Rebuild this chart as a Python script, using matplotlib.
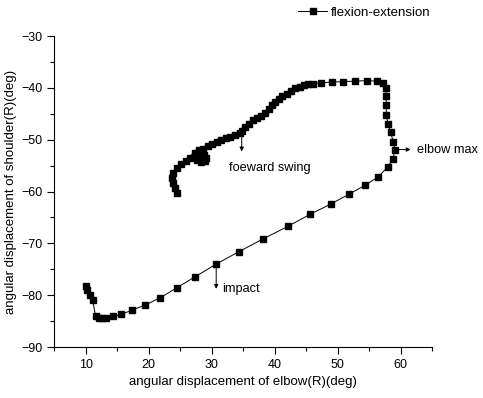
import matplotlib
matplotlib.use("Agg")
import matplotlib.pyplot as plt

plt.rcParams['font.family'] = ['Liberation Sans', 'DejaVu Sans']

# elbow (x) vs shoulder (y) angles, degrees, in time order
elbow = [24.5, 24.1, 23.8, 23.7, 23.9, 24.4, 25.1, 25.9, 26.6,
         27.3, 27.2, 27.6, 28.3, 28.9, 29.1, 28.7, 28.1, 27.6, 27.9, 28.6,
         29.4, 30.1, 30.8, 31.5, 32.2, 32.9, 33.75, 34.4, 34.8, 35.3, 35.9,
         36.5, 37.1, 37.8, 38.5, 39.1, 39.6, 40.1, 40.6, 41.2, 41.9, 42.6,
         43.2, 44.0, 44.7, 45.3, 46.0, 47.3, 49.05, 50.9, 52.8, 54.7, 56.2,
         57.1, 57.6, 57.7, 57.7, 57.7, 58.0, 58.4, 58.8, 59.1, 58.75, 57.9,
         56.4, 54.3, 51.8, 48.9, 45.6, 42.1, 38.2, 34.3, 30.7, 27.4, 24.4,
         21.8, 19.4, 17.3, 15.6, 14.3, 13.2, 12.6, 12.1, 11.55, 11.1, 10.6,
         10.2, 10.0]
shoulder = [-60.2, -59.4, -58.4, -57.3, -56.4, -55.5, -54.7, -54.1, -53.6,
            -52.6, -53.3, -53.9, -54.3, -54.1, -53.5, -53.0, -52.8, -52.6,
            -52.0, -51.7, -51.2, -50.8, -50.5, -50.1, -49.75, -49.4, -49.1,
            -48.8, -48.3, -47.5, -46.9, -46.2, -45.9, -45.4, -44.8, -44.0,
            -43.4, -42.8, -42.2, -41.6, -41.1, -40.6, -40.1, -39.8, -39.5,
            -39.3, -39.2, -39.0, -38.9, -38.8, -38.7, -38.6, -38.7, -39.1,
            -40.1, -41.6, -43.3, -45.25, -47.0, -48.6, -50.4, -51.9, -53.7,
            -55.3, -57.2, -58.8, -60.5, -62.4, -64.4, -66.7, -69.1, -71.6,
            -74.0, -76.4, -78.6, -80.5, -81.9, -82.9, -83.7, -84.1, -84.3,
            -84.4, -84.3, -84.05, -81.0, -80.0, -78.9, -78.3]

fig = plt.figure(figsize=(4.83, 3.98), dpi=100)
ax = fig.add_axes([0.1124, 0.128, 0.7826, 0.7815])

line, = ax.plot(elbow, shoulder, color='black', linewidth=0.7, marker='s',
                markersize=5, markerfacecolor='black', markeredgecolor='black',
                label='flexion-extension')

ax.set_xlim(5, 65)
ax.set_ylim(-90, -30)
ax.set_xticks([10, 20, 30, 40, 50, 60])
ax.set_xticks([5, 15, 25, 35, 45, 55, 65], minor=True)
ax.set_yticks([-90, -80, -70, -60, -50, -40, -30])
ax.set_yticks([-85, -75, -65, -55, -45, -35], minor=True)
ax.tick_params(which='major', direction='out', length=5, width=0.8, labelsize=9)
ax.tick_params(which='minor', direction='out', length=3, width=0.8)
ax.spines['top'].set_visible(False)
ax.spines['right'].set_visible(False)

ax.set_xlabel('angular displacement of elbow(R)(deg)', fontsize=9.5)
ax.set_ylabel('angular displacement of shoulder(R)(deg)', fontsize=9.5, labelpad=3)

arrow = dict(arrowstyle='-|>', color='black', lw=0.7, mutation_scale=6)
ax.annotate('', xy=(34.75, -52.8), xytext=(34.75, -49.0), arrowprops=arrow)
ax.text(32.7, -55.5, 'foeward swing', fontsize=9.2, va='center')
ax.annotate('', xy=(62.0, -51.9), xytext=(59.3, -51.9), arrowprops=arrow,
            annotation_clip=False)
ax.text(62.6, -51.9, 'elbow max', fontsize=9.2, va='center', clip_on=False)
ax.annotate('', xy=(30.7, -79.3), xytext=(30.7, -74.0), arrowprops=arrow)
ax.text(31.7, -78.8, 'impact', fontsize=9.2, va='center')

fig.legend(handles=[line], loc='center left', bbox_to_anchor=(0.617, 0.968),
           frameon=False, fontsize=9.5, handlelength=2.2, handletextpad=0.3,
           borderaxespad=0, borderpad=0)

fig.savefig('out.png', dpi=100)
